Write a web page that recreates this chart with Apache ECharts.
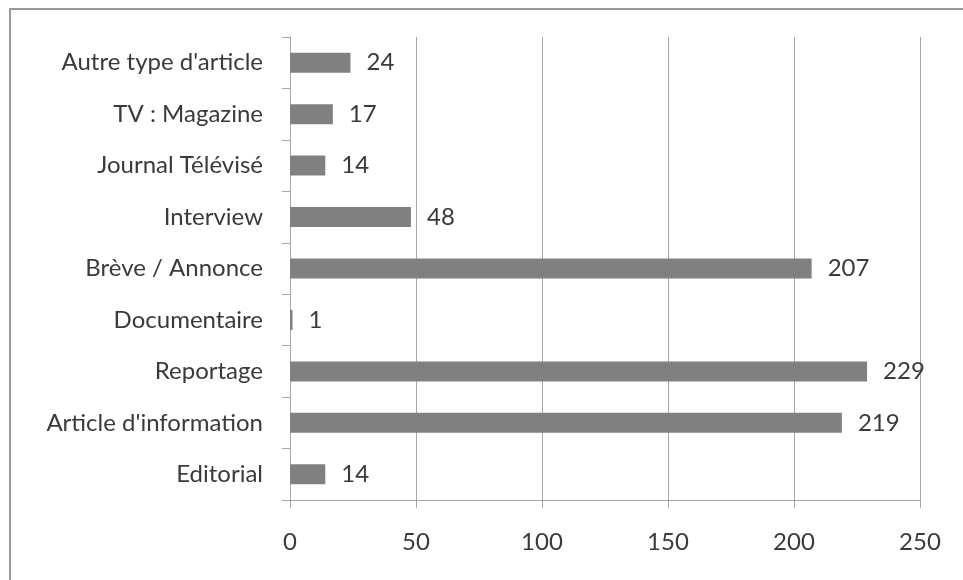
<!DOCTYPE html>
<html><head><meta charset="utf-8">
<script src="https://cdn.jsdelivr.net/npm/echarts@6/dist/echarts.min.js"></script>
<style>html,body{margin:0;padding:0;background:#fff;}#c{width:963px;height:580px;}</style>
</head><body><div id="c"></div>
<script>
const categories = ["Editorial","Article d'information","Reportage","Documentaire","Brève / Annonce","Interview","Journal Télévisé","TV : Magazine","Autre type d'article"];
const values = [14,219,229,1,207,48,14,17,24];
const xTicks = [0,50,100,150,200,250];

const chart = echarts.init(document.getElementById('c'));
const txt = '#3a3a3a', font = 'Lato', fs = 24;
chart.setOption({
  animation:false,
  graphic:[{type:'rect',shape:{x:10,y:9,width:1000,height:1000},style:{fill:'none',stroke:'#9a9a9a',lineWidth:2},silent:true}],
  grid:{left:290,right:43,top:37,bottom:80,containLabel:false},
  xAxis:{type:'value',min:xTicks[0],max:xTicks[xTicks.length-1],interval:50,
    axisLine:{show:true,lineStyle:{color:'#a6a6a6'}},
    axisTick:{show:true,length:8,lineStyle:{color:'#a6a6a6'}},
    splitLine:{show:true,lineStyle:{color:'#a6a6a6'}},
    axisLabel:{color:txt,fontFamily:font,fontSize:fs,margin:30}},
  yAxis:{type:'category',data:categories,
    axisLine:{show:true,lineStyle:{color:'#a6a6a6'}},
    axisTick:{show:true,length:8,lineStyle:{color:'#a6a6a6'}},
    axisLabel:{color:txt,fontFamily:font,fontSize:fs,margin:27}},
  series:[{type:'bar',data:values,barWidth:20,
    itemStyle:{color:'#808080'},
    label:{show:true,position:'right',distance:16,color:txt,fontFamily:font,fontSize:fs}}]
});
</script></body></html>
